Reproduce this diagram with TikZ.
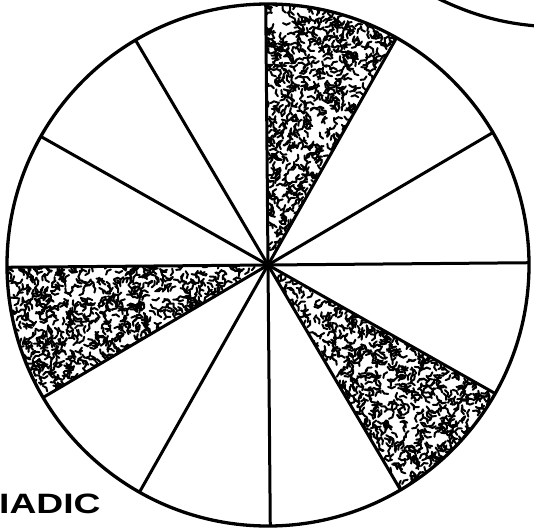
\documentclass[tikz,border=0pt]{standalone}
\usepackage{fontspec}
\newfontfamily\labfont{Liberation Sans}
\begin{document}
\begin{tikzpicture}[x=1pt,y=-1pt,
  rim/.style={line width=3.3pt},
  spoke/.style={line width=3pt},
  stip/.style={line width=2pt, line cap=round},
  lab/.style={font=\labfont\bfseries\fontsize{28}{28}\selectfont, inner sep=0pt, anchor=base west}]
\useasboundingbox (0,0) rectangle (534,527);
\clip (0,0) rectangle (534,527);
\def\R{261}
\def\dlt{0.5}
\coordinate (c) at (268,265);
% shaded sectors
\pgfmathsetseed{4711}
\foreach \s in {60,180,300} {
  \begin{scope}
    \clip (c) -- plot[domain={\s+\dlt}:{\s+30+\dlt}, samples=24] ({268+\R*cos(\x)},{265-\R*sin(\x)}) -- cycle;
    \foreach \i in {1,...,650} {
      \pgfmathsetmacro\rr{\R*sqrt(rnd)}
      \pgfmathsetmacro\aa{\s+\dlt+rnd*30}
      \pgfmathsetmacro\dd{rnd*360}
      \draw[stip] ({268+\rr*cos(\aa)},{265-\rr*sin(\aa)}) ++(\dd:3.5) to[bend left=50] ++(\dd+180:7);
    }
  \end{scope}
}
% spokes
\foreach \a in {0,30,...,330} {
  \coordinate (e\a) at ({268+\R*cos(\a+\dlt)},{265-\R*sin(\a+\dlt)});
  \draw[spoke] (c) -- (e\a);
}
\draw[rim] (c) circle[radius=\R];
\fill (c) circle[radius=5];
% partial neighbouring circle at top right
\coordinate (p1) at (437,-2);
\coordinate (p2) at (537,26);
\draw[line width=3.2pt] (p1) .. controls (470,14) and (500,23) .. (p2);
% caption
\node[lab] (cap) at (-1,513) {\scalebox{1.33}[1]{IADIC}};
\end{tikzpicture}
\end{document}
